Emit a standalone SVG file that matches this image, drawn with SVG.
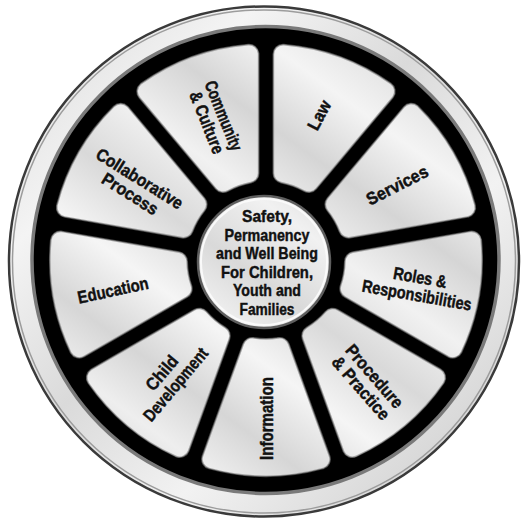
<svg xmlns="http://www.w3.org/2000/svg" xmlns:xlink="http://www.w3.org/1999/xlink" width="521" height="523" viewBox="0 0 521 523">
<defs>
<style>
.lbl { font-family: "Liberation Sans", "DejaVu Sans", Arial, sans-serif; font-weight: bold; font-size: 17.5px; fill: #111; stroke: #111; stroke-width: 0.45; text-anchor: middle; }
.ctr { font-size: 17px; }
.segO { fill: #4a4a4a; stroke: #4a4a4a; stroke-width: 21; stroke-linejoin: round; }
.segM { fill: #a4a4a4; stroke: #a4a4a4; stroke-width: 19.4; stroke-linejoin: round; }
.segB { stroke-width: 17.6; stroke-linejoin: round; }
</style>
<linearGradient id="metal" gradientUnits="userSpaceOnUse" x1="110" y1="480" x2="430" y2="40">
<stop offset="0" stop-color="#d2d2d2"/>
<stop offset="0.12" stop-color="#eeeeee"/>
<stop offset="0.22" stop-color="#d6d6d6"/>
<stop offset="0.34" stop-color="#f5f5f5"/>
<stop offset="0.46" stop-color="#d9d9d9"/>
<stop offset="0.58" stop-color="#f1f1f1"/>
<stop offset="0.7" stop-color="#d5d5d5"/>
<stop offset="0.82" stop-color="#f4f4f4"/>
<stop offset="1" stop-color="#d3d3d3"/>
</linearGradient>
<linearGradient id="ringG" gradientUnits="userSpaceOnUse" x1="0" y1="0" x2="521" y2="523">
<stop offset="0" stop-color="#d6d6d6"/>
<stop offset="0.25" stop-color="#f4f4f4"/>
<stop offset="0.45" stop-color="#dadada"/>
<stop offset="0.65" stop-color="#f2f2f2"/>
<stop offset="0.85" stop-color="#d8d8d8"/>
<stop offset="1" stop-color="#ededed"/>
</linearGradient>
<linearGradient id="g0" xlink:href="#metal" gradientTransform="rotate(70) translate(-266 -260)"/>
<linearGradient id="g1" xlink:href="#metal" gradientTransform="rotate(30) translate(-266 -260)"/>
<linearGradient id="g2" xlink:href="#metal" gradientTransform="rotate(-10) translate(-266 -260)"/>
<linearGradient id="g3" xlink:href="#metal" gradientTransform="rotate(-50) translate(-266 -260)"/>
<linearGradient id="g4" xlink:href="#metal" gradientTransform="rotate(-90) translate(-266 -260)"/>
<linearGradient id="g5" xlink:href="#metal" gradientTransform="rotate(-130) translate(-266 -260)"/>
<linearGradient id="g6" xlink:href="#metal" gradientTransform="rotate(-170) translate(-266 -260)"/>
<linearGradient id="g7" xlink:href="#metal" gradientTransform="rotate(-210) translate(-266 -260)"/>
<linearGradient id="g8" xlink:href="#metal" gradientTransform="rotate(-250) translate(-266 -260)"/>
<path id="seg" d="M87.43,-13.73 L199.2,-54.41 A206.5,206.5 0 0 1 199.2,54.41 L87.43,13.73 A88.5,88.5 0 0 0 87.43,-13.73 Z"/>
</defs>

<g id="wheel-frame">
<circle cx="264" cy="261.5" r="255" fill="url(#ringG)" stroke="#3a3a3a" stroke-width="2.5"/>
<circle cx="264" cy="261.5" r="251.5" fill="none" stroke="#9c9c9c" stroke-width="1.5"/>
<circle cx="265.5" cy="260" r="233.5" fill="#000" stroke="#7a7a7a" stroke-width="3.5"/>
</g>

<g id="connectors"/>

<g id="law">
<g transform="translate(266 260) rotate(-70)">
<use xlink:href="#seg" class="segO"/><use xlink:href="#seg" class="segM"/><use xlink:href="#seg" class="segB" fill="url(#g0)" stroke="url(#g0)"/>
</g>
<text class="lbl" transform="translate(319 115) rotate(-62)" y="6.3" textLength="31" lengthAdjust="spacingAndGlyphs">Law</text>
</g>

<g id="services">
<g transform="translate(266 260) rotate(-30)">
<use xlink:href="#seg" class="segO"/><use xlink:href="#seg" class="segM"/><use xlink:href="#seg" class="segB" fill="url(#g1)" stroke="url(#g1)"/>
</g>
<text class="lbl" transform="translate(397 185) rotate(-27)" y="6.3" textLength="67" lengthAdjust="spacingAndGlyphs">Services</text>
</g>

<g id="roles">
<g transform="translate(266 260) rotate(10)">
<use xlink:href="#seg" class="segO"/><use xlink:href="#seg" class="segM"/><use xlink:href="#seg" class="segB" fill="url(#g2)" stroke="url(#g2)"/>
</g>
<text class="lbl" transform="translate(418.5 286) rotate(10)" y="-2.7" textLength="54" lengthAdjust="spacingAndGlyphs">Roles &amp;</text>
<text class="lbl" transform="translate(418.5 286) rotate(10)" y="15.3" textLength="111" lengthAdjust="spacingAndGlyphs">Responsibilities</text>
</g>

<g id="procedure">
<g transform="translate(266 260) rotate(50)">
<use xlink:href="#seg" class="segO"/><use xlink:href="#seg" class="segM"/><use xlink:href="#seg" class="segB" fill="url(#g3)" stroke="url(#g3)"/>
</g>
<text class="lbl" transform="translate(368 382) rotate(49)" y="-2.7" textLength="78" lengthAdjust="spacingAndGlyphs">Procedure</text>
<text class="lbl" transform="translate(368 382) rotate(49)" y="15.3" textLength="78" lengthAdjust="spacingAndGlyphs">&amp; Practice</text>
</g>

<g id="information">
<g transform="translate(266 260) rotate(90)">
<use xlink:href="#seg" class="segO"/><use xlink:href="#seg" class="segM"/><use xlink:href="#seg" class="segB" fill="url(#g4)" stroke="url(#g4)"/>
</g>
<text class="lbl" transform="translate(266.5 418.5) rotate(-90)" y="6.3" textLength="83" lengthAdjust="spacingAndGlyphs">Information</text>
</g>

<g id="child-development">
<g transform="translate(266 260) rotate(130)">
<use xlink:href="#seg" class="segO"/><use xlink:href="#seg" class="segM"/><use xlink:href="#seg" class="segB" fill="url(#g5)" stroke="url(#g5)"/>
</g>
<text class="lbl" transform="translate(168.5 378.5) rotate(-50)" y="-2.7" textLength="40" lengthAdjust="spacingAndGlyphs">Child</text>
<text class="lbl" transform="translate(168.5 378.5) rotate(-50)" y="15.3" textLength="90" lengthAdjust="spacingAndGlyphs">Development</text>
</g>

<g id="education">
<g transform="translate(266 260) rotate(170)">
<use xlink:href="#seg" class="segO"/><use xlink:href="#seg" class="segM"/><use xlink:href="#seg" class="segB" fill="url(#g6)" stroke="url(#g6)"/>
</g>
<text class="lbl" transform="translate(113 290) rotate(-12)" y="6.3" textLength="72" lengthAdjust="spacingAndGlyphs">Education</text>
</g>

<g id="collaborative-process">
<g transform="translate(266 260) rotate(210)">
<use xlink:href="#seg" class="segO"/><use xlink:href="#seg" class="segM"/><use xlink:href="#seg" class="segB" fill="url(#g7)" stroke="url(#g7)"/>
</g>
<text class="lbl" transform="translate(135 186) rotate(32)" y="-2.7" textLength="99" lengthAdjust="spacingAndGlyphs">Collaborative</text>
<text class="lbl" transform="translate(135 186) rotate(32)" y="15.3" textLength="63" lengthAdjust="spacingAndGlyphs">Process</text>
</g>

<g id="community-culture">
<g transform="translate(266 260) rotate(250)">
<use xlink:href="#seg" class="segO"/><use xlink:href="#seg" class="segM"/><use xlink:href="#seg" class="segB" fill="url(#g8)" stroke="url(#g8)"/>
</g>
<text class="lbl" transform="translate(215.5 119) rotate(68)" y="-2.7" textLength="74" lengthAdjust="spacingAndGlyphs">Community</text>
<text class="lbl" transform="translate(215.5 119) rotate(68)" y="15.3" textLength="66" lengthAdjust="spacingAndGlyphs">&amp; Culture</text>
</g>

<g id="hub">
<circle cx="264" cy="262" r="66" fill="url(#metal)" stroke="#5e5e5e" stroke-width="2.5"/>
<circle cx="264" cy="262" r="63" fill="none" stroke="#fafafa" stroke-width="2"/>
<text class="lbl ctr" x="267" y="222" textLength="50" lengthAdjust="spacingAndGlyphs">Safety,</text>
<text class="lbl ctr" x="267" y="240.6" textLength="85" lengthAdjust="spacingAndGlyphs">Permanency</text>
<text class="lbl ctr" x="267" y="259.2" textLength="102" lengthAdjust="spacingAndGlyphs">and Well Being</text>
<text class="lbl ctr" x="267" y="277.8" textLength="92" lengthAdjust="spacingAndGlyphs">For Children,</text>
<text class="lbl ctr" x="267" y="296.4" textLength="68" lengthAdjust="spacingAndGlyphs">Youth and</text>
<text class="lbl ctr" x="267" y="315" textLength="55" lengthAdjust="spacingAndGlyphs">Families</text>
</g>
</svg>
